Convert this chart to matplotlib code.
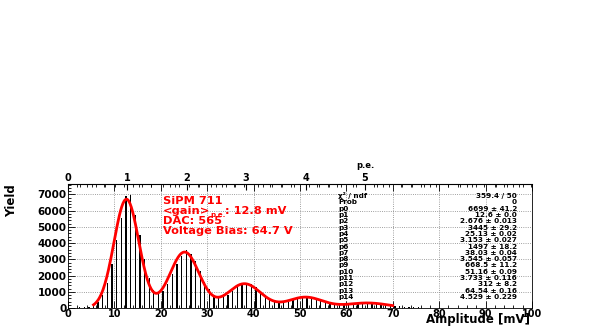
import numpy as np
import matplotlib
matplotlib.use("Agg")
import matplotlib.pyplot as plt
from matplotlib.ticker import MultipleLocator

plt.rcParams['font.family'] = ['DejaVu Sans']
plt.rcParams['font.weight'] = 'bold'

# histogram: bin contents, 1 mV bins starting at 0 mV
counts = [10, 20, 40, 60, 90, 200, 380, 800, 1550, 2700,
          4200, 5550, 6900, 6950, 5700, 4500, 3000, 1860, 1140, 900,
          1060, 1470, 2110, 2740, 3230, 3580, 3320, 2890, 2280, 1620,
          1160, 820, 670, 700, 800, 1040, 1270, 1440, 1520, 1450,
          1290, 1070, 830, 620, 470, 390, 380, 360, 470, 570,
          640, 670, 650, 590, 500, 430, 340, 280, 240, 220,
          190, 230, 270, 290, 310, 310, 300, 270, 230, 190,
          150, 110, 80, 60, 45, 35, 25, 20, 15, 10,
          8, 6, 5, 4, 3, 2, 2, 1, 1, 1,
          0, 0, 0, 0, 0, 0, 0, 0, 0, 0]

# fit result: 5 gaussians (amplitude, mean, sigma)
amps = [6699, 3445, 1497, 668.5, 312]
means = [12.6, 25.13, 38.03, 51.16, 64.54]
sigmas = [2.676, 3.153, 3.545, 3.733, 4.529]
fit_range = (5.5, 70)

gain = 12.8  # mV per p.e.

stat_names = ["χ² / ndf", "Prob", "p0", "p1", "p2", "p3", "p4", "p5", "p6",
              "p7", "p8", "p9", "p10", "p11", "p12", "p13", "p14"]
stat_values = ["359.4 / 50", "0", "6699 ± 41.2", "12.6 ± 0.0",
               "2.676 ± 0.013", "3445 ± 29.2", "25.13 ± 0.02",
               "3.153 ± 0.027", "1497 ± 18.2", "38.03 ± 0.04",
               "3.545 ± 0.057", "668.5 ± 11.2", "51.16 ± 0.09",
               "3.733 ± 0.116", "312 ± 8.2", "64.54 ± 0.16",
               "4.529 ± 0.229"]

info_top = "SiPM 711"
gain_parts = ["<gain>", "p.e.", ": 12.8 mV"]
info_bottom = ["DAC: 565", "Voltage Bias: 64.7 V"]

fig = plt.figure(figsize=(5.99, 3.27), dpi=100)
ax = fig.add_axes([0.1135, 0.058, 0.7745, 0.379])

centers = np.arange(len(counts)) + 0.5
ax.bar(centers, counts, width=0.28, color='black', linewidth=0)

xf = np.linspace(fit_range[0], fit_range[1], 500)
yf = np.zeros_like(xf)
for a, m, s in zip(amps, means, sigmas):
    yf += a * np.exp(-0.5 * ((xf - m) / s) ** 2)
ax.plot(xf, yf, color='red', lw=2)

ax.set_xlim(0, 100)
ax.set_ylim(0, 7630)
ax.xaxis.set_major_locator(MultipleLocator(10))
ax.xaxis.set_minor_locator(MultipleLocator(2))
ax.yaxis.set_major_locator(MultipleLocator(1000))
ax.yaxis.set_minor_locator(MultipleLocator(200))
ax.tick_params(which='both', direction='in', labelsize=7.5, pad=1)
ax.tick_params(which='major', length=5, width=0.6)
ax.tick_params(which='minor', length=2.5, width=0.6)
ax.tick_params(axis='x', top=True, which='both', labelsize=7, pad=0.5)
ax.grid(True, color='gray', linestyle=':', linewidth=0.6)
ax.set_axisbelow(True)
for sp in ax.spines.values():
    sp.set_linewidth(0.6)

fig.text(530 / 599, 0.5 / 327, "Amplitude [mV]", fontsize=8.5,
         fontweight='bold', ha='right', va='bottom')
fig.text(12 / 599, 1 - 184 / 327, "Yield", fontsize=8.5, fontweight='bold',
         rotation=90, ha='center', va='top')

# top p.e. axis
top = ax.secondary_xaxis('top', functions=(lambda x: x / gain, lambda p: p * gain))
top.set_xticks([0, 1, 2, 3, 4, 5])
top.xaxis.set_minor_locator(MultipleLocator(0.2))
top.tick_params(which='both', direction='in', labelsize=7, pad=1)
top.tick_params(which='major', length=4)
top.tick_params(which='minor', length=2)
top.set_xlim(0, 5)
ax.text(5 * gain, 1.115, "p.e.", transform=ax.get_xaxis_transform(),
        fontsize=6, ha='center', va='bottom')

# info text (baselines)
red = dict(color='red', fontweight='bold')
base = [6420, 5800, 5180, 4560]
ax.text(20.4, base[0], info_top, fontsize=8.2, va='baseline', **red)
t1 = ax.text(20.4, base[1], gain_parts[0], fontsize=8.2, va='baseline', **red)
t2 = ax.annotate(gain_parts[1], xy=(1, base[1] - 180), xycoords=(t1, 'data'),
                 fontsize=5, va='baseline', ha='left', **red)
ax.annotate(gain_parts[2], xy=(1, base[1]), xycoords=(t2, 'data'),
            fontsize=8.2, va='baseline', ha='left', **red)
for i, t in enumerate(info_bottom):
    ax.text(20.4, base[2 + i], t, fontsize=8.2, va='baseline', **red)

# stats box
for i, (n, v) in enumerate(zip(stat_names, stat_values)):
    y = 6900 - i * 389
    ax.text(58.2, y, n, fontsize=5.2, va='center')
    ax.text(96.8, y, v, fontsize=5.2, va='center', ha='right')

fig.savefig("out.png", dpi=100)
